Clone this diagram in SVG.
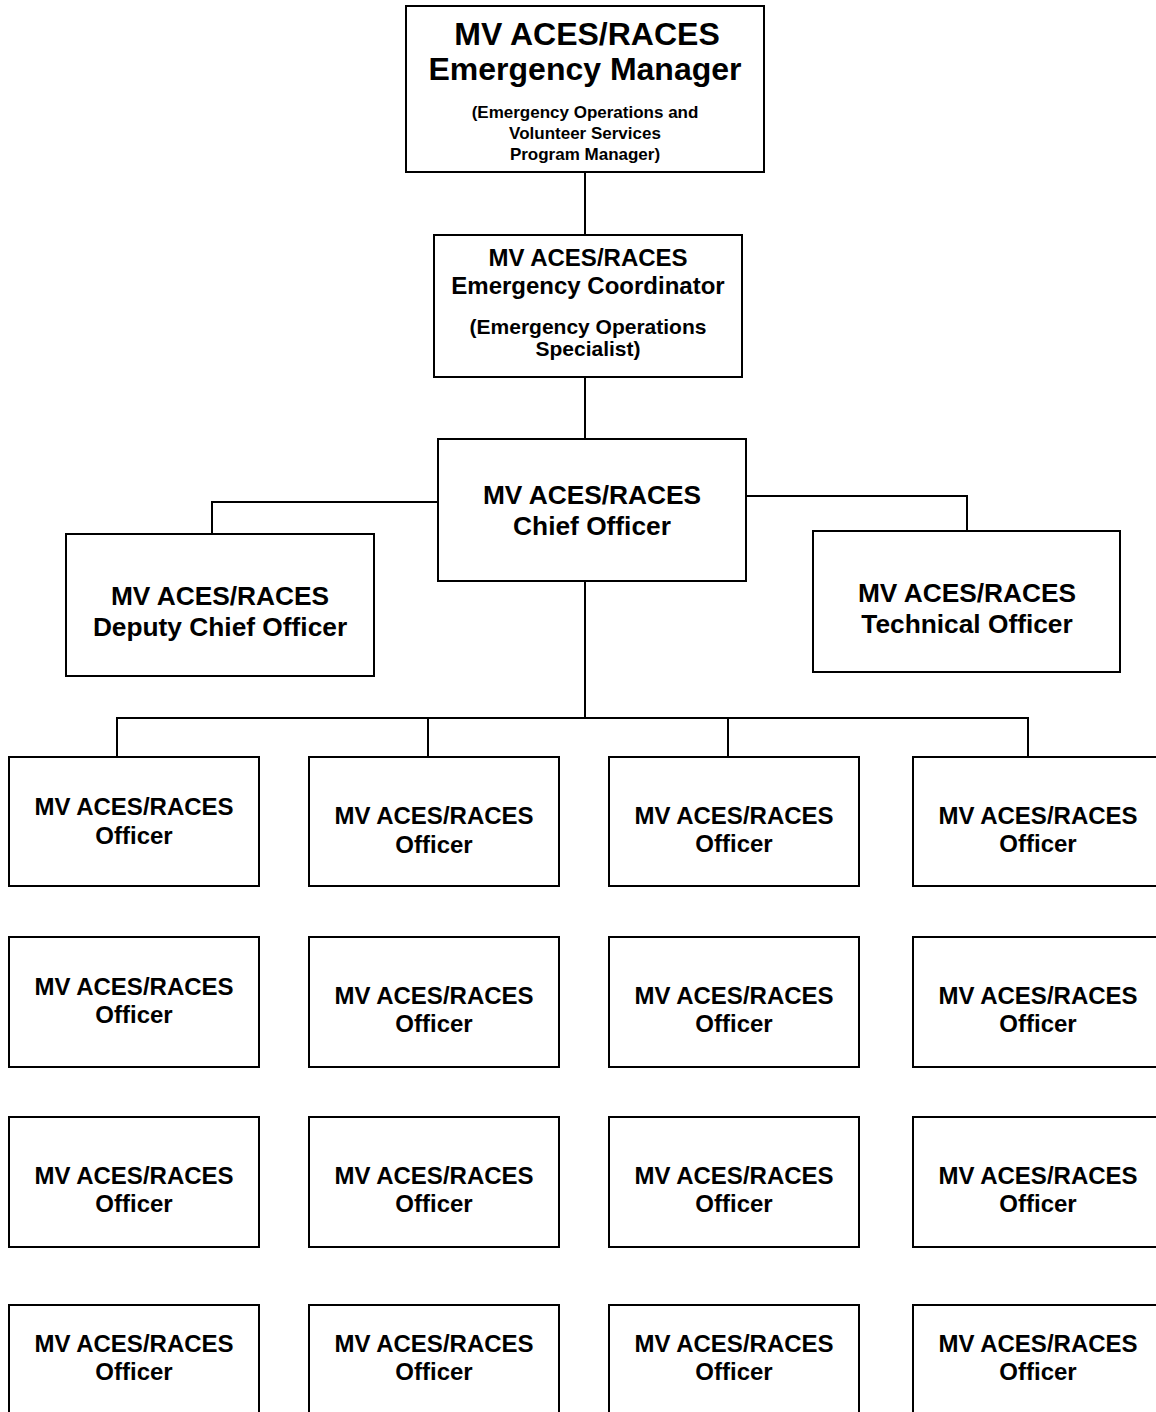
<svg xmlns="http://www.w3.org/2000/svg" width="1156" height="1412" viewBox="0 0 1156 1412">
<style>
rect{fill:#fff;stroke:#000;stroke-width:2}
.c line,.c polyline{stroke:#000;stroke-width:2;fill:none}
text{font-family:"Liberation Sans",Arial,sans-serif;font-weight:bold;text-anchor:middle;fill:#000}
.o{font-size:24px}
.m{font-size:26.3px}
.s{font-size:17px}
.s2{font-size:21px}
.t{font-size:32px}
</style>
<rect width="1156" height="1412" style="stroke:none"/>
<g class="c" id="connectors">
<line x1="585" y1="172" x2="585" y2="235"/>
<line x1="585" y1="377" x2="585" y2="439"/>
<polyline points="438,502 212,502 212,534"/>
<polyline points="746,496 967,496 967,531"/>
<line x1="585" y1="581" x2="585" y2="718"/>
<polyline points="117,757 117,718 1028,718 1028,757"/>
<line x1="428" y1="718" x2="428" y2="757"/>
<line x1="728" y1="718" x2="728" y2="757"/>
</g>
<g id="manager"><rect x="406" y="6" width="358" height="166"/>
<text class="t" x="587" y="45">MV ACES/RACES</text><text class="t" x="585" y="80">Emergency Manager</text>
<text class="s" x="585" y="118">(Emergency Operations and</text><text class="s" x="585" y="139">Volunteer Services</text><text class="s" x="585" y="160">Program Manager)</text></g>
<g id="coordinator"><rect x="434" y="235" width="308" height="142"/>
<text class="o" x="588" y="266">MV ACES/RACES</text><text class="o" x="588" y="294">Emergency Coordinator</text>
<text class="s2" x="588" y="334">(Emergency Operations</text><text class="s2" x="588" y="356">Specialist)</text></g>
<g id="chief"><rect x="438" y="439" width="308" height="142"/>
<text class="m" x="592" y="504">MV ACES/RACES</text><text class="m" x="592" y="535">Chief Officer</text></g>
<g id="deputy"><rect x="66" y="534" width="308" height="142"/>
<text class="m" x="220" y="605">MV ACES/RACES</text><text class="m" x="220" y="636">Deputy Chief Officer</text></g>
<g id="technical"><rect x="813" y="531" width="307" height="141"/>
<text class="m" x="967" y="602">MV ACES/RACES</text><text class="m" x="967" y="633">Technical Officer</text></g>
<g id="o11"><rect x="9" y="757" width="250" height="129"/><text class="o" x="134" y="815">MV ACES/RACES</text><text class="o" x="134" y="844">Officer</text></g>
<g id="o12"><rect x="309" y="757" width="250" height="129"/><text class="o" x="434" y="824">MV ACES/RACES</text><text class="o" x="434" y="853">Officer</text></g>
<g id="o13"><rect x="609" y="757" width="250" height="129"/><text class="o" x="734" y="824">MV ACES/RACES</text><text class="o" x="734" y="852">Officer</text></g>
<g id="o14"><rect x="913" y="757" width="250" height="129"/><text class="o" x="1038" y="824">MV ACES/RACES</text><text class="o" x="1038" y="852">Officer</text></g>
<g id="o21"><rect x="9" y="937" width="250" height="130"/><text class="o" x="134" y="995">MV ACES/RACES</text><text class="o" x="134" y="1023">Officer</text></g>
<g id="o22"><rect x="309" y="937" width="250" height="130"/><text class="o" x="434" y="1004">MV ACES/RACES</text><text class="o" x="434" y="1032">Officer</text></g>
<g id="o23"><rect x="609" y="937" width="250" height="130"/><text class="o" x="734" y="1004">MV ACES/RACES</text><text class="o" x="734" y="1032">Officer</text></g>
<g id="o24"><rect x="913" y="937" width="250" height="130"/><text class="o" x="1038" y="1004">MV ACES/RACES</text><text class="o" x="1038" y="1032">Officer</text></g>
<g id="o31"><rect x="9" y="1117" width="250" height="130"/><text class="o" x="134" y="1184">MV ACES/RACES</text><text class="o" x="134" y="1212">Officer</text></g>
<g id="o32"><rect x="309" y="1117" width="250" height="130"/><text class="o" x="434" y="1184">MV ACES/RACES</text><text class="o" x="434" y="1212">Officer</text></g>
<g id="o33"><rect x="609" y="1117" width="250" height="130"/><text class="o" x="734" y="1184">MV ACES/RACES</text><text class="o" x="734" y="1212">Officer</text></g>
<g id="o34"><rect x="913" y="1117" width="250" height="130"/><text class="o" x="1038" y="1184">MV ACES/RACES</text><text class="o" x="1038" y="1212">Officer</text></g>
<g id="o41"><rect x="9" y="1305" width="250" height="130"/><text class="o" x="134" y="1352">MV ACES/RACES</text><text class="o" x="134" y="1380">Officer</text></g>
<g id="o42"><rect x="309" y="1305" width="250" height="130"/><text class="o" x="434" y="1352">MV ACES/RACES</text><text class="o" x="434" y="1380">Officer</text></g>
<g id="o43"><rect x="609" y="1305" width="250" height="130"/><text class="o" x="734" y="1352">MV ACES/RACES</text><text class="o" x="734" y="1380">Officer</text></g>
<g id="o44"><rect x="913" y="1305" width="250" height="130"/><text class="o" x="1038" y="1352">MV ACES/RACES</text><text class="o" x="1038" y="1380">Officer</text></g>
</svg>
